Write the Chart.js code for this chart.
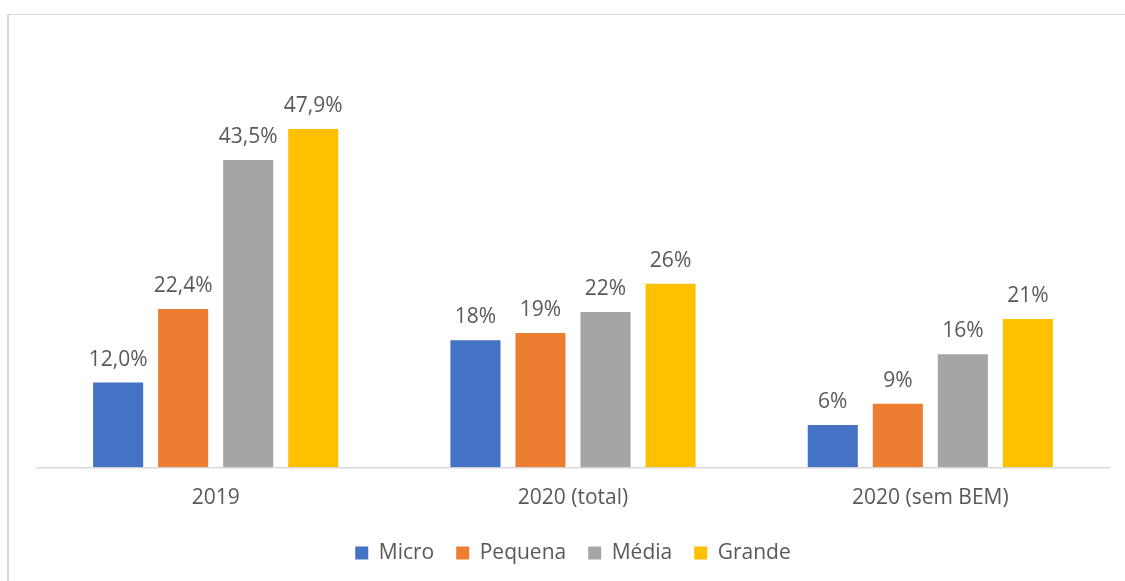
<!DOCTYPE html>
<html>
<head>
<meta charset="utf-8">
<script src="https://cdn.jsdelivr.net/npm/chart.js@4.4.7/dist/chart.umd.min.js"></script>
<style>
  html, body { margin: 0; padding: 0; background: #fff; overflow: hidden; }
  #wrap { position: relative; width: 1125px; height: 581px; }
  #frame {
    position: absolute; left: 7px; top: 14px; width: 1130px; height: 580px;
    border-left: 2px solid #d9d9d9; border-top: 1px solid #d9d9d9;
  }
  #chart { position: absolute; left: 0; top: 0; }
</style>
</head>
<body>
<div id="wrap">
  <div id="frame"></div>
  <canvas id="chart" width="1125" height="581"></canvas>
</div>
<script>
// categories and series
const categories = ['2019', '2020 (total)', '2020 (sem BEM)'];
const micro   = [12.0, 18, 6];
const pequena = [22.4, 19, 9];
const media   = [43.5, 22, 16];
const grande  = [47.9, 26, 21];
// decimals shown in the value labels, per category
const decimals = [1, 0, 0];

const textColor = '#595959';
const fontFamily = '"Open Sans", "Noto Sans", sans-serif';

// draws the value above each bar, pt-BR style (comma decimal)
const valueLabels = {
  id: 'valueLabels',
  afterDatasetsDraw(chart) {
    const ctx = chart.ctx;
    ctx.save();
    ctx.font = '21px ' + fontFamily;
    ctx.fillStyle = textColor;
    ctx.textAlign = 'center';
    ctx.textBaseline = 'alphabetic';
    chart.data.datasets.forEach((ds, i) => {
      chart.getDatasetMeta(i).data.forEach((bar, j) => {
        const txt = ds.data[j].toFixed(decimals[j]).replace('.', ',') + '%';
        ctx.fillText(txt, bar.x, bar.y - 17);
      });
    });
    ctx.restore();
  }
};

Chart.defaults.font.family = fontFamily;
Chart.defaults.color = textColor;

new Chart(document.getElementById('chart'), {
  type: 'bar',
  data: {
    labels: categories,
    datasets: [
      { label: 'Micro',   data: micro,   backgroundColor: '#4472C4' },
      { label: 'Pequena', data: pequena, backgroundColor: '#ED7D31' },
      { label: 'Média',   data: media,   backgroundColor: '#A5A5A5' },
      { label: 'Grande',  data: grande,  backgroundColor: '#FFC000' }
    ]
  },
  options: {
    responsive: false,
    animation: false,
    datasets: {
      bar: { categoryPercentage: 0.728, barPercentage: 0.77 }
    },
    layout: {
      padding: { left: 37, right: 16, top: 43.5, bottom: 13.5 }
    },
    plugins: {
      legend: {
        position: 'bottom',
        maxHeight: 47,
        labels: {
          boxWidth: 13,
          boxHeight: 13,
          padding: 22,
          font: { size: 21 },
          color: textColor
        }
      },
      tooltip: { enabled: false }
    },
    scales: {
      x: {
        grid: { display: false },
        border: { display: true, color: '#d9d9d9', width: 1.5 },
        ticks: { padding: 10, font: { size: 21 }, color: textColor }
      },
      y: {
        display: false,
        min: 0,
        max: 60
      }
    }
  },
  plugins: [valueLabels]
});
</script>
</body>
</html>
